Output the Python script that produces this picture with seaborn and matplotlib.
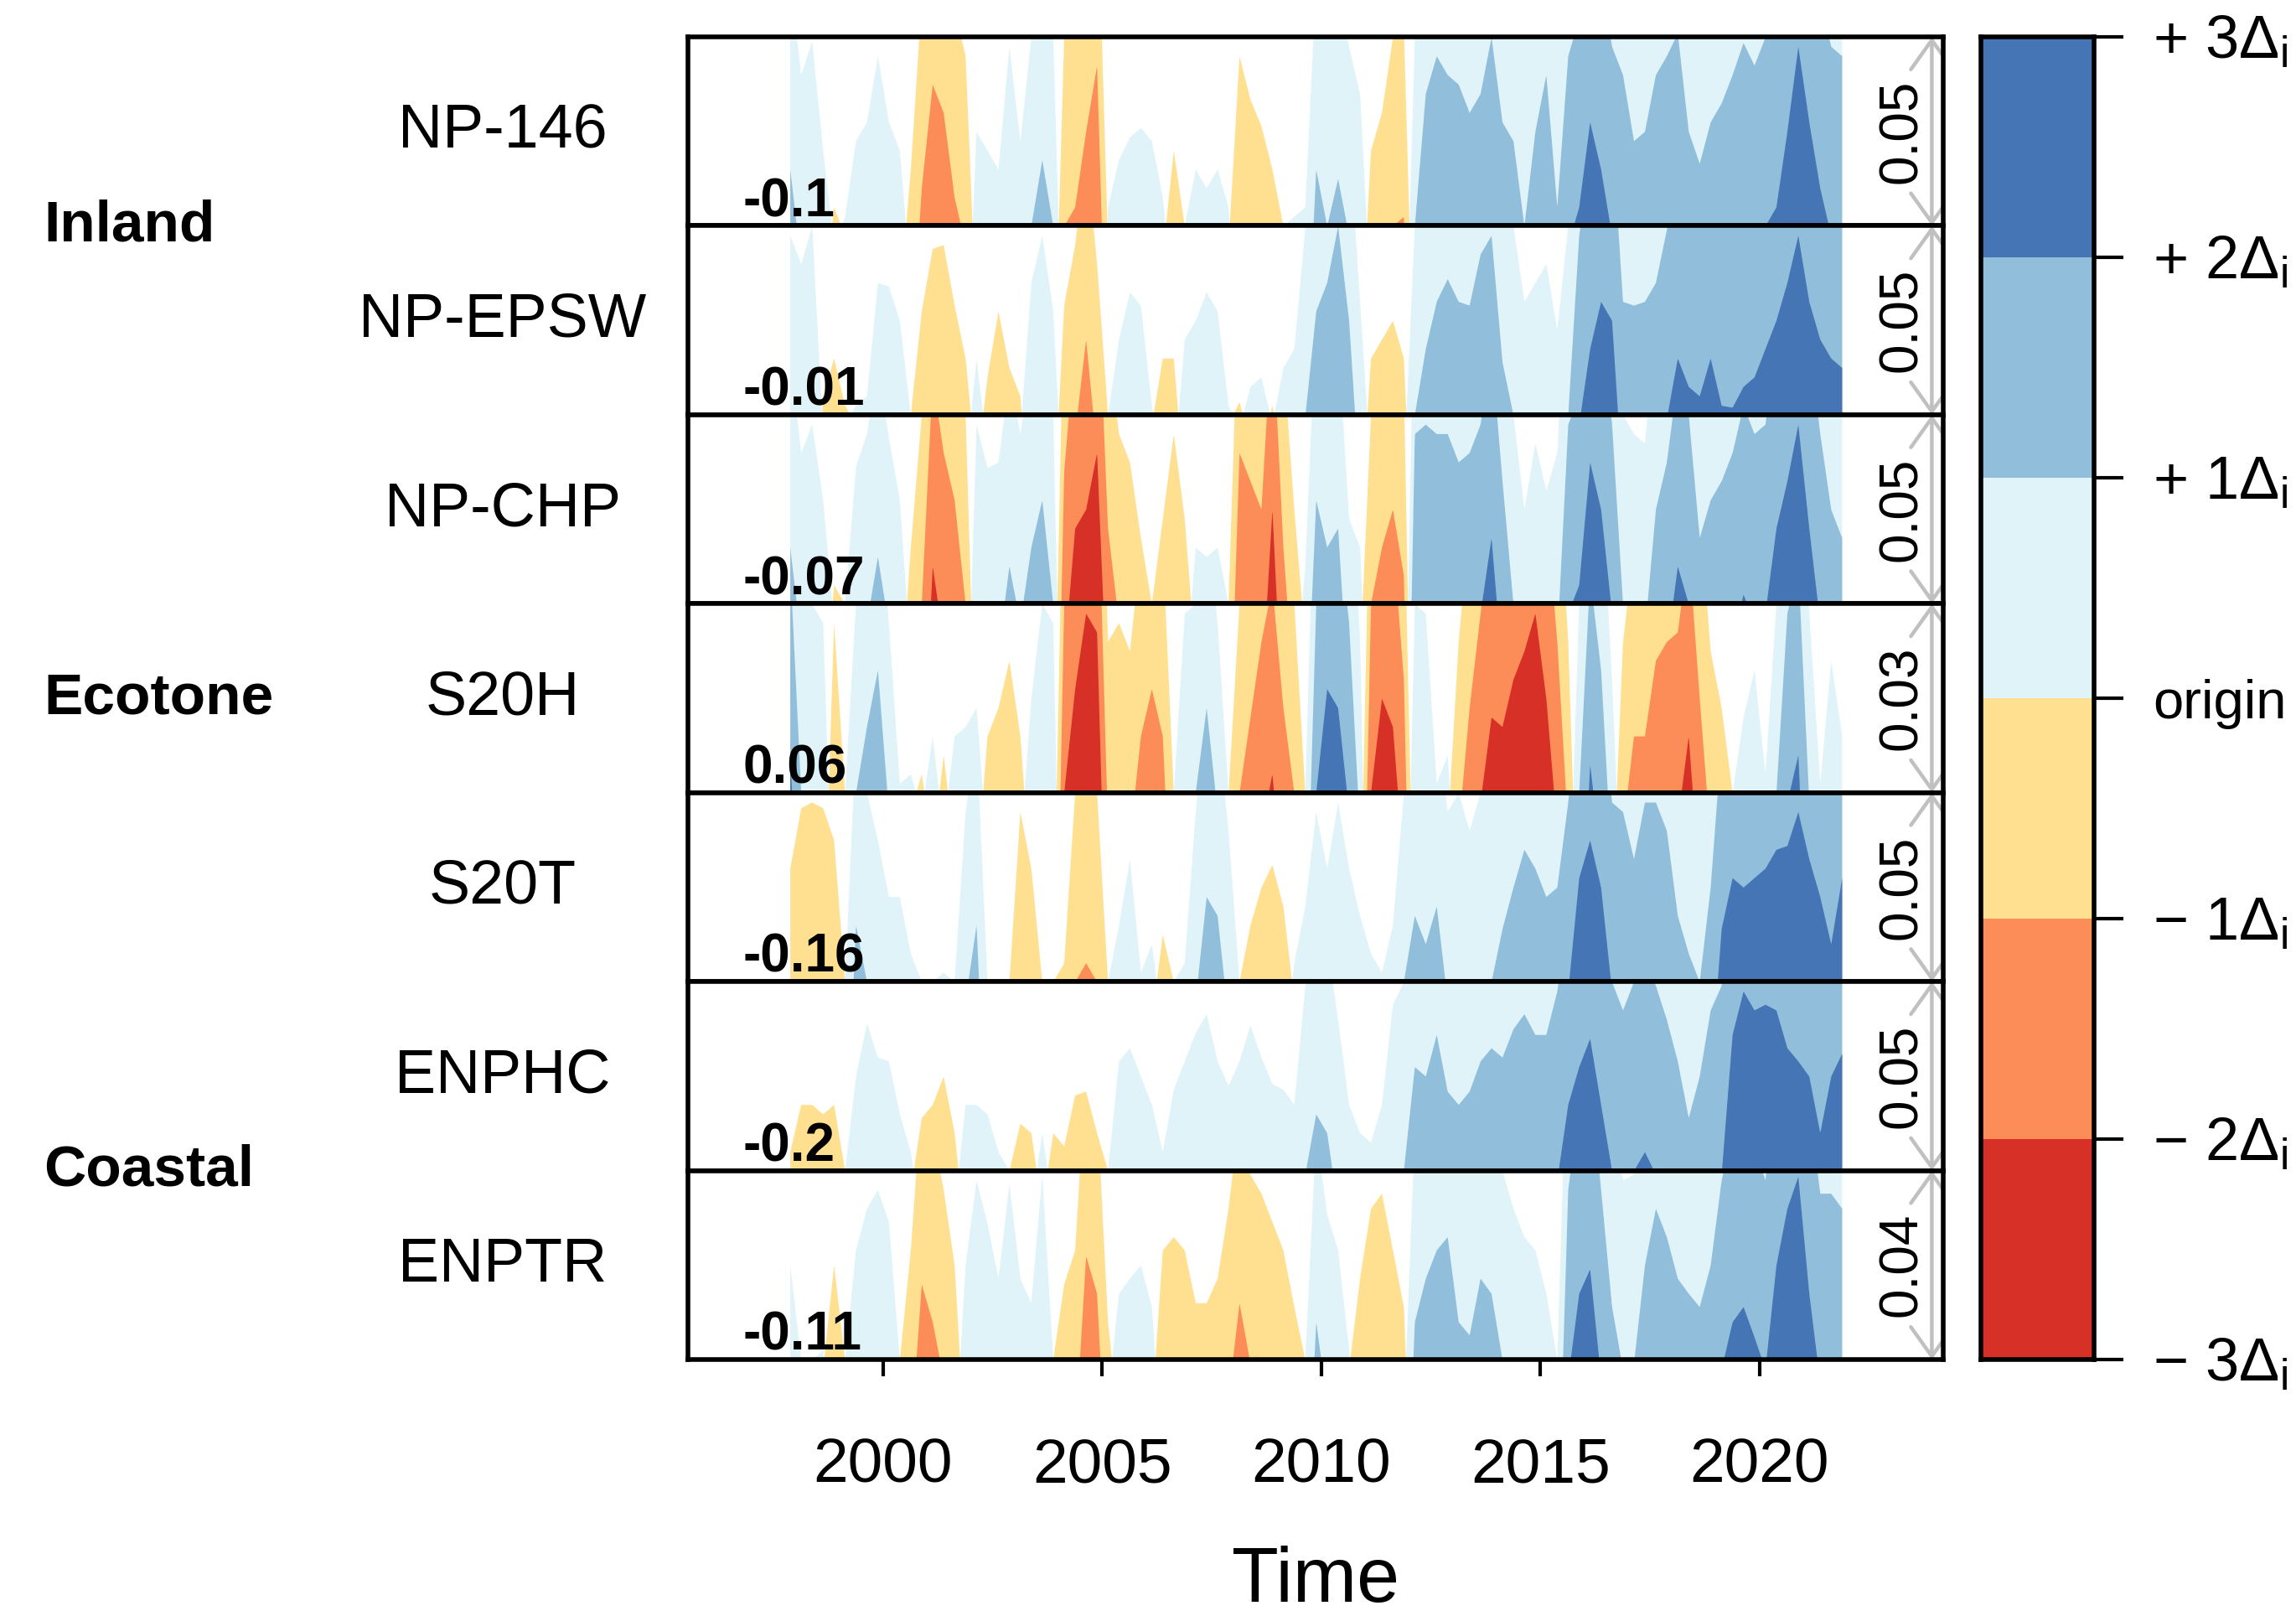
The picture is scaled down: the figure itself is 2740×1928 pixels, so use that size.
import numpy as np
import matplotlib
matplotlib.use("Agg")
import matplotlib.pyplot as plt
from matplotlib.colors import ListedColormap
import seaborn as sns

# Horizon plot: each series is the anomaly from its origin, in units of delta
sites = ["NP-146", "NP-EPSW", "NP-CHP", "S20H", "S20T", "ENPHC", "ENPTR"]
origins = ["-0.1", "-0.01", "-0.07", "0.06", "-0.16", "-0.2", "-0.11"]
deltas = ["0.05", "0.05", "0.05", "0.03", "0.05", "0.05", "0.04"]
groups = ["Inland", "Ecotone", "Coastal"]

# quarterly samples, 1997.875 .. 2021.875
time = np.arange(1997.875, 2022.0, 0.25)

np146 = [1.3,
         0.8, 0.98, 0.4, -0.1,
         0.05, 0.45, 0.55, 0.9,
         0.55, 0.4, -0.3, -1.2,
         -1.75, -1.6, -1.15, -0.9,
         0.5, 0.4, 0.3, 0.95,
         0.45, 1.0, 1.35, 1.0,
         -1.0, -1.1, -1.5, -1.85,
         0.1, 0.35, 0.47, 0.52,
         0.45, 0.15, -0.4, 0.0,
         0.3, 0.2, 0.3, 0.1,
         -0.9, -0.67, -0.53, -0.3,
         0.0, 0.05, 0.1, 1.3,
         1.0, 1.25, 0.95, 0.7,
         -0.4, -0.6, -1.0, -1.05,
         1.0, 1.7, 1.9, 1.8,
         1.75, 1.6, 1.7, 2.0,
         1.55, 1.45, 1.0, 1.5,
         1.8, 1.1, 1.9, 2.1,
         2.55, 2.3, 1.95, 1.8,
         1.45, 1.5, 1.8, 1.9,
         2.02, 1.5, 1.33, 1.55,
         1.65, 1.8, 1.97, 1.85,
         2.0, 2.1, 2.5, 2.95,
         2.55, 2.2, 1.95, 1.9]

npepsw = [0.95,
          0.8, 1.0, -0.1, -0.3,
          -0.05, 0.05, 0.1, 0.7,
          0.68, 0.5, 0.0, -0.55,
          -0.88, -0.9, -0.58, -0.3,
          0.3, -0.2, -0.55, -0.25,
          -0.1, 0.7, 0.95, 0.55,
          -0.58, -0.9, -1.4, -0.8,
          0.0, 0.4, 0.65, 0.58,
          0.05, -0.3, -0.3, 0.4,
          0.5, 0.65, 0.55, 0.05,
          -0.07, 0.15, 0.2, -0.05,
          0.25, 0.35, 0.99, 1.55,
          1.7, 2.0, 1.5, 0.6,
          -0.3, -0.4, -0.5, -0.3,
          1.0, 1.35, 1.6, 1.72,
          1.6, 1.58, 1.85, 1.95,
          1.28, 1.0, 0.6, 0.7,
          0.8, 0.45, 1.0, 1.95,
          2.35, 2.6, 2.5, 1.6,
          1.58, 1.6, 1.7, 1.98,
          2.3, 2.15, 2.1, 2.3,
          2.05, 2.04, 2.15, 2.2,
          2.35, 2.5, 2.7, 2.95,
          2.6, 2.4, 2.3, 2.25]

npchp = [1.3,
         0.8, 0.95, 0.55, -0.1,
         0.0, 0.73, 0.9, 1.25,
         0.88, 0.55, -0.3, -1.0,
         -2.2, -1.8, -1.55, -1.0,
         0.95, 0.72, 0.75, 1.2,
         0.9, 1.3, 1.55, 1.0,
         -1.7, -2.4, -2.5, -2.8,
         -1.4, -0.9, -0.75, -0.35,
         0.0, -0.45, -0.9, -0.45,
         0.3, 0.25, 0.3, 0.0,
         -1.8, -1.65, -1.5, -2.5,
         -1.3, -0.5, 0.2, 1.55,
         1.3, 1.4, 0.45, 0.3,
         -1.0, -1.3, -1.5, -1.15,
         1.9, 1.95, 1.9, 1.9,
         1.75, 1.8, 1.95, 2.35,
         1.65, 1.0, 0.5, 0.85,
         0.6, 0.8, 1.95, 2.1,
         2.75, 2.5, 1.95, 1.0,
         0.9, 0.85, 1.5, 1.75,
         2.2, 2.0, 1.35, 1.55,
         1.65, 1.8, 2.05, 1.9,
         1.95, 2.4, 2.65, 2.95,
         2.4, 1.9, 1.5, 1.35]

s20h = [2.2,
        1.0, 1.0, 0.9, -0.9,
        0.0, 1.0, 1.35, 1.65,
        0.9, 0.05, 0.1, -0.1,
        0.3, -0.2, 0.3, 0.35,
        0.45, -0.3, -0.45, -0.7,
        -0.3, 0.5, 1.0, 0.9,
        -2.0, -2.55, -2.95, -2.85,
        -0.8, -0.9, -0.75, -1.3,
        -1.55, -1.3, 0.0, 0.95,
        1.0, 1.45, 0.9, 0.0,
        -1.0, -1.4, -1.8, -2.1,
        -1.45, -1.0, 0.0, 2.0,
        2.55, 2.45, 1.9, 0.8,
        -2.0, -2.5, -2.35, -1.6,
        1.0, 0.95, 0.05, 0.2,
        -0.8, -1.45, -1.95, -2.4,
        -2.35, -2.6, -2.75, -2.95,
        -2.5, -1.8, -0.8, 1.0,
        2.15, 1.65, 0.6, -0.8,
        -1.3, -1.3, -1.7, -1.8,
        -1.85, -2.3, -1.5, -0.75,
        -0.45, 0.0, 0.4, 0.65,
        0.1, 1.0, 1.95, 2.2,
        0.95, 0.05, 0.7, 0.3]

s20t = [-0.6,
        -0.92, -0.95, -0.92, -0.75,
        0.0, 1.3, 1.0, 0.75,
        0.45, 0.45, 0.15, 0.0,
        0.0, 0.05, 0.0, 0.9,
        1.3, 0.0, 0.0, 0.0,
        -0.9, -0.6, 0.0, 0.0,
        -0.1, -1.0, -1.1, -1.0,
        0.0, 0.3, 0.65, 0.05,
        0.2, -0.25, 0.0, 0.1,
        0.9, 1.45, 1.35, 0.8,
        0.0, -0.3, -0.5, -0.62,
        -0.4, 0.1, 0.4, 0.9,
        0.6, 0.95, 0.6, 0.35,
        0.15, 0.05, 0.3, 1.0,
        1.35, 1.2, 1.4, 0.9,
        1.0, 0.8, 1.0, 1.0,
        1.28, 1.5, 1.7, 1.6,
        1.45, 1.5, 1.95, 2.55,
        2.75, 2.5, 1.95, 1.9,
        1.65, 1.95, 1.95, 1.8,
        1.35, 1.15, 1.0, 1.5,
        2.28, 2.55, 2.5, 2.55,
        2.6, 2.7, 2.72, 2.9,
        2.65, 2.45, 2.2, 2.55]

enphc = [-0.1,
         -0.35, -0.35, -0.3, -0.35,
         0.0, 0.5, 0.78, 0.6,
         0.58, 0.3, 0.1, -0.28,
         -0.35, -0.5, -0.2, 0.35,
         0.35, 0.3, 0.1, 0.0,
         -0.25, -0.2, 0.2, -0.2,
         -0.13, -0.4, -0.42, -0.2,
         0.0, 0.58, 0.65, 0.5,
         0.35, 0.1, 0.43, 0.58,
         0.73, 0.83, 0.58, 0.45,
         0.58, 0.77, 0.6, 0.46,
         0.43, 0.35, 0.98, 1.3,
         1.2, 0.8, 0.35, 0.2,
         0.15, 0.35, 0.88, 1.0,
         1.55, 1.5, 1.72, 1.42,
         1.35, 1.42, 1.58, 1.65,
         1.6, 1.75, 1.83, 1.72,
         1.72, 1.95, 2.35, 2.55,
         2.7, 2.35, 2.0, 1.85,
         2.0, 2.1, 1.98, 1.8,
         1.58, 1.28, 1.5, 1.85,
         1.98, 2.72, 2.95, 2.85,
         2.88, 2.85, 2.65, 2.58,
         2.5, 2.2, 2.5, 2.62]

enptr = [0.5,
         0.0, 0.0, 0.05, -0.5,
         0.0, 0.58, 0.8, 0.9,
         0.73, 0.0, -0.58, -1.4,
         -1.2, -0.9, -0.5, 0.5,
         0.95, 0.72, 0.43, 0.93,
         0.43, 0.3, 0.98, 0.0,
         -0.4, -0.58, -1.55, -1.35,
         -0.2, 0.35, 0.43, 0.5,
         0.28, -0.58, -0.65, -0.58,
         -0.3, -0.3, -0.43, -0.8,
         -1.3, -0.98, -0.88, -0.73,
         -0.58, -0.28, 0.0, 1.2,
         0.77, 0.58, 0.05, -0.43,
         -0.8, -0.88, -0.58, -0.28,
         1.2, 1.43, 1.58, 1.65,
         1.2, 1.13, 1.43, 1.35,
         1.0, 0.8, 0.65, 0.58,
         0.35, 0.0, 1.9, 2.35,
         2.48, 1.9, 1.28, 0.95,
         0.98, 1.5, 1.8, 1.65,
         1.43, 1.35, 1.28, 1.5,
         1.95, 2.2, 2.28, 2.12,
         1.95, 2.5, 2.8, 2.97,
         2.35, 1.88, 1.88, 1.8]

series = [np146, npepsw, npchp, s20h, s20t, enphc, enptr]

pos_cols = ["#e0f3f8", "#91bfdb", "#4575b4"]
neg_cols = ["#fee090", "#fc8d59", "#d73027"]

sns.set_theme(style="white")
plt.rcParams["font.family"] = ["Liberation Sans", "DejaVu Sans"]
plt.rcParams["mathtext.fontset"] = "custom"
plt.rcParams["mathtext.rm"] = "Liberation Sans"
plt.rcParams["mathtext.it"] = "Liberation Sans:italic"
plt.rcParams["text.color"] = "black"
plt.rcParams["xtick.color"] = "black"
plt.rcParams["ytick.color"] = "black"


def horizon(ax, t, lev):
    # draw on a fine grid so the band cut-offs follow the line exactly
    tt = np.linspace(t[0], t[-1], 3000)
    ll = np.interp(tt, t, lev)
    for k in range(3):
        ax.fill_between(tt, 0, np.clip(ll - k, 0, 1), color=pos_cols[k], lw=0)
    for k in range(3):
        ax.fill_between(tt, 0, np.clip(-ll - k, 0, 1), color=neg_cols[k], lw=0)


W, H = 2740, 1928
fig = plt.figure(figsize=(W / 200, H / 200), dpi=200)
left, right = 821 / W, 2319 / W
top, bottom = 1 - 44 / H, 1 - 1622 / H
ph = (top - bottom) / 7

for i, lev in enumerate(series):
    ax = fig.add_axes([left, top - (i + 1) * ph, right - left, ph])
    horizon(ax, time, lev)
    ax.set_xlim(1995.55, 2024.19)
    ax.set_ylim(0, 1)
    ax.set_yticks([])
    for s in ax.spines.values():
        s.set_visible(True)
        s.set_color("black")
        s.set_linewidth(2.0)
        s.set_zorder(5)
    ax.text(1996.8, 0.05, origins[i], fontsize=23, fontweight="bold",
            ha="left", va="baseline", color="black")
    # scale arrow, clipped to the panel like the original
    ann = ax.annotate("", xy=(2023.93, 1), xytext=(2023.93, 0),
                      arrowprops=dict(arrowstyle="<->,head_length=0.63,head_width=0.45",
                                      color="#c0c0c0", lw=1.6, shrinkA=0, shrinkB=0,
                                      mutation_scale=20))
    ann.arrow_patch.set_clip_box(ax.bbox)
    ann.arrow_patch.set_clip_on(True)
    ax.text(2023.25, 0.5, deltas[i], rotation=90, fontsize=23,
            ha="center", va="center", color="black")
    fig.text(600 / W, top - (i + 0.5) * ph, sites[i], fontsize=26.5,
             ha="center", va="center", color="black")
    if i < 6:
        ax.set_xticks([])
    else:
        ax.set_xticks([2000, 2005, 2010, 2015, 2020])
        ax.tick_params(axis="x", bottom=True, direction="out", length=7.2,
                       width=1.5, pad=26, labelsize=27, colors="black")

# group labels on the left
for name, pos in zip(groups, [1.0, 3.5, 6.0]):
    fig.text(52 / W, top - pos * ph, name, fontsize=25, fontweight="bold",
             ha="left", va="center", color="black")

fig.text((left + right) / 2, 1 - 1887 / H, "Time", fontsize=33,
         ha="center", va="center", color="black")

# legend bar
cax = fig.add_axes([2364 / W, bottom, 135 / W, top - bottom])
bands = np.array([[5], [4], [3], [2], [1], [0]])
sns.heatmap(bands, ax=cax, cbar=False, vmin=-0.5, vmax=5.5,
            cmap=ListedColormap(neg_cols[::-1] + pos_cols))
cax.set_xticks([])
cax.yaxis.tick_right()
cax.set_yticks(range(7))
cax.set_yticklabels([r"$+\ 3\Delta_\mathrm{i}$", r"$+\ 2\Delta_\mathrm{i}$",
                     r"$+\ 1\Delta_\mathrm{i}$", "origin",
                     r"$-\ 1\Delta_\mathrm{i}$", r"$-\ 2\Delta_\mathrm{i}$",
                     r"$-\ 3\Delta_\mathrm{i}$"], rotation=0, fontsize=26)
cax.get_yticklabels()[3].set_fontsize(23.5)
cax.tick_params(axis="y", right=True, left=False, length=12.6, width=1.5,
                pad=12.6, colors="black")
for s in cax.spines.values():
    s.set_visible(True)
    s.set_color("black")
    s.set_linewidth(2.0)

fig.savefig("out.png", dpi=200)
